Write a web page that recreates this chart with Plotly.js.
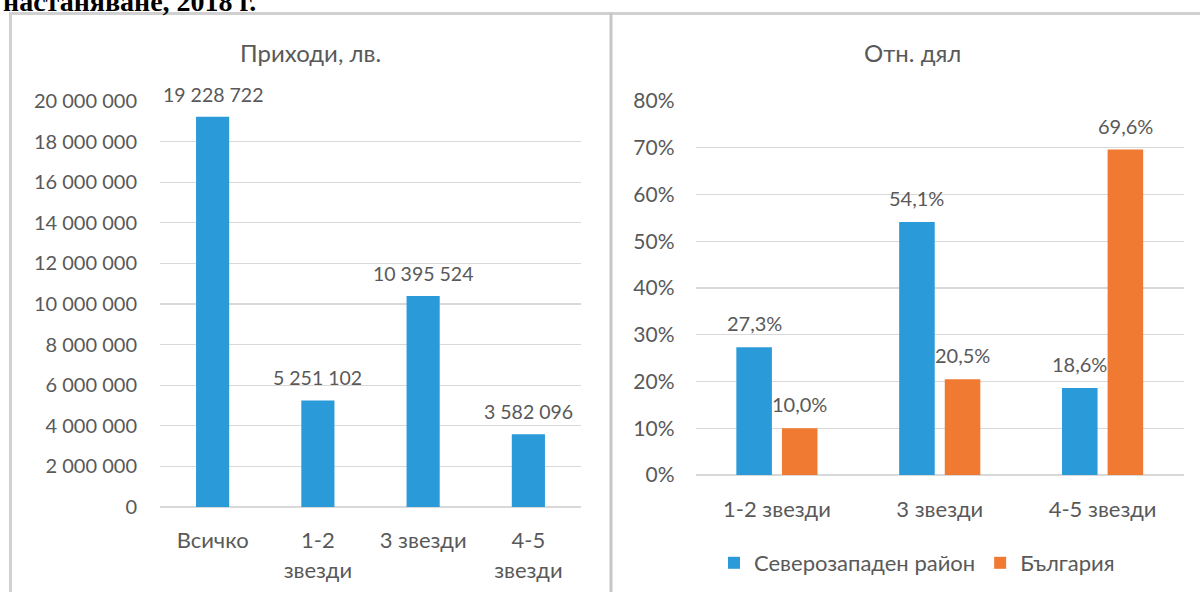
<!DOCTYPE html>
<html>
<head>
<meta charset="utf-8">
<script src="https://cdn.plot.ly/plotly-3.0.1.min.js"></script>
<style>
  html, body { margin: 0; padding: 0; background: #ffffff; }
  #chart { width: 1200px; height: 592px; }
</style>
</head>
<body>
<div id="chart"></div>
<script>
// ---- Data ----
const incomeCategories = ["Всичко", "1-2<br>звезди", "3 звезди", "4-5<br>звезди"];
const incomeValues = [19228722, 5251102, 10395524, 3582096];

const shareCategories = ["1-2 звезди", "3 звезди", "4-5 звезди"];
const shareNorthWest = [27.3, 54.1, 18.6];
const shareBulgaria = [10.0, 20.5, 69.6];

const seriesNames = ["Северозападен район", "България"];
const panelTitles = ["Приходи, лв.", "Отн. дял"];
const headerText = "настаняване, 2018 г.";

// ---- Styling ----
const W = 1200, H = 592;
const BLUE = "#2B9AD8", ORANGE = "#F07A31";
const TXT = "#595959", GRID = "#d9d9d9", BORDER = "#d0d0d0";
const FONT = "Lato, 'Noto Sans', sans-serif";
const xp = px => px / W;
const yp = py => 1 - py / H;

function fmtInt(v) { return String(Math.round(v)).replace(/\B(?=(\d{3})+(?!\d))/g, " "); }
function fmtPct(v) { return v.toFixed(1).replace(".", ",") + "%"; }

// plot areas (pixels)
const L = {x0: 160, x1: 581, yTop: 101, yBot: 507};
const R = {x0: 695.5, x1: 1184, yTop: 101, yBot: 475};
const rightGap = 0.44, rightGroupGap = 0.22;

const tickLabel = t => '<span style="font-size:22px">' + t + '</span>';

const traces = [
  {
    type: "bar", x: incomeCategories, y: incomeValues,
    xaxis: "x", yaxis: "y", marker: {color: BLUE}, showlegend: false,
    hoverinfo: "x+y"
  },
  {
    type: "bar", name: seriesNames[0], x: shareCategories, y: shareNorthWest,
    xaxis: "x2", yaxis: "y2", marker: {color: BLUE}
  },
  {
    type: "bar", name: seriesNames[1], x: shareCategories, y: shareBulgaria,
    xaxis: "x2", yaxis: "y2", marker: {color: ORANGE}
  }
];

const annotations = [];
// data labels left
incomeCategories.forEach((c, i) => {
  annotations.push({
    xref: "x", yref: "y", x: c, y: incomeValues[i], text: fmtInt(incomeValues[i]),
    showarrow: false, yanchor: "bottom", yshift: 9,
    font: {family: FONT, size: 19.5, color: TXT}
  });
});
// data labels right (grouped)
const catPx = (R.x1 - R.x0) / shareCategories.length;
const slotPx = (1 - rightGap) * catPx / 2;
[shareNorthWest, shareBulgaria].forEach((arr, s) => {
  shareCategories.forEach((c, i) => {
    annotations.push({
      xref: "x2", yref: "y2", x: c, y: arr[i], text: fmtPct(arr[i]),
      showarrow: false, yanchor: "bottom", yshift: 10,
      xshift: (s === 0 ? -1 : 1) * slotPx / 2,
      font: {family: FONT, size: 20, color: TXT}
    });
  });
});
// panel titles
annotations.push({
  xref: "paper", yref: "paper", x: xp(310), y: yp(53), text: panelTitles[0],
  showarrow: false, xanchor: "center", yanchor: "middle",
  font: {family: FONT, size: 24, color: TXT}
});
annotations.push({
  xref: "paper", yref: "paper", x: xp(912), y: yp(53), text: panelTitles[1],
  showarrow: false, xanchor: "center", yanchor: "middle",
  font: {family: FONT, size: 24, color: TXT}
});
// page header, partly cut by the top edge as in the source image
annotations.push({
  xref: "paper", yref: "paper", x: xp(258), y: yp(19), text: "<b>" + headerText + "</b>",
  showarrow: false, xanchor: "right", yanchor: "bottom",
  font: {family: "'Liberation Serif', 'Times New Roman', serif", size: 28, color: "#000000"}
});

const shapes = [
  {type: "line", xref: "paper", yref: "paper", x0: xp(9), x1: xp(1200), y0: yp(13.5), y1: yp(13.5),
   line: {color: BORDER, width: 3}},
  {type: "line", xref: "paper", yref: "paper", x0: xp(10.5), x1: xp(10.5), y0: yp(13), y1: yp(592),
   line: {color: BORDER, width: 3}},
  {type: "line", xref: "paper", yref: "paper", x0: xp(611), x1: xp(611), y0: yp(13), y1: yp(592),
   line: {color: "#c6c6c6", width: 3}}
];

const axisFont = {family: FONT, size: 20, color: TXT};

const layout = {
  width: W, height: H,
  margin: {l: 0, r: 0, t: 0, b: 0},
  paper_bgcolor: "#ffffff", plot_bgcolor: "rgba(0,0,0,0)",
  separators: ", ",
  showlegend: true,
  legend: {
    orientation: "h", x: xp(917), xanchor: "center", y: yp(563), yanchor: "middle",
    font: {family: FONT, size: 22, color: TXT}, itemwidth: 30, bgcolor: "rgba(0,0,0,0)"
  },
  bargap: 0.685,
  xaxis: {
    domain: [xp(L.x0), xp(L.x1)], anchor: "y",
    tickvals: incomeCategories, ticktext: incomeCategories.map(tickLabel),
    tickfont: {family: FONT, size: 23, color: TXT},
    showgrid: false, showline: false, ticks: "", ticklabelstandoff: 17, fixedrange: true
  },
  yaxis: {
    domain: [yp(L.yBot), yp(L.yTop)], anchor: "x",
    range: [0, 20000000], dtick: 2000000, tickformat: ",d",
    tickfont: axisFont, gridcolor: GRID, gridwidth: 1.3,
    zeroline: true, zerolinecolor: GRID, zerolinewidth: 1.3,
    showline: false, ticks: "", ticklabelstandoff: 22, fixedrange: true
  },
  xaxis2: {
    domain: [xp(R.x0), xp(R.x1)], anchor: "y2",
    tickfont: {family: FONT, size: 22, color: TXT}, showgrid: false, showline: false, ticks: "",
    ticklabelstandoff: 19, fixedrange: true
  },
  yaxis2: {
    domain: [yp(R.yBot), yp(R.yTop)], anchor: "x2",
    range: [0, 80], dtick: 10, ticksuffix: "%",
    tickfont: {family: FONT, size: 21, color: TXT}, gridcolor: GRID, gridwidth: 1.3,
    zeroline: true, zerolinecolor: GRID, zerolinewidth: 1.3,
    showline: false, ticks: "", ticklabelstandoff: 20, fixedrange: true
  },
  annotations: annotations,
  shapes: shapes
};

// right-panel bar widths/offsets in category units (bargap is shared between subplots)
const rightWidth = slotPx * (1 - rightGroupGap) / catPx;
const inset = (slotPx - slotPx * (1 - rightGroupGap)) / 2 / catPx;
traces[1].width = rightWidth; traces[1].offset = -slotPx / catPx + inset;
traces[2].width = rightWidth; traces[2].offset = inset;

Plotly.newPlot("chart", traces, layout, {displayModeBar: false, staticPlot: true});
</script>
</body>
</html>
